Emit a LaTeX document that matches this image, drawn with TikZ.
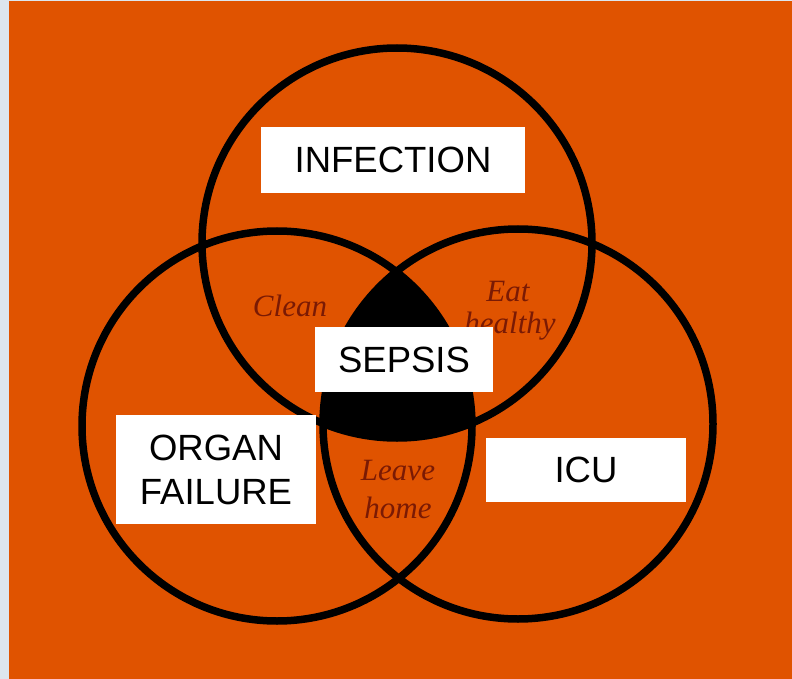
\documentclass[tikz,border=0pt]{standalone}
\usepackage{fontspec}
\newfontfamily\boxfont{Liberation Sans}
\newfontfamily\notefont{Liberation Serif}
\usepackage{xcolor}
\usepackage{tikz}
\usetikzlibrary{positioning}

\definecolor{venn}{HTML}{E05300}
\definecolor{edge}{HTML}{DDE6EE}
\definecolor{inkred}{HTML}{7A1A04}

\begin{document}
\begin{tikzpicture}[
        x=1pt, y=-1pt,
        ring/.style={circle, draw=black, line width=7.5pt, minimum size=390pt, inner sep=0pt},
        tag/.style={rectangle, fill=white, inner sep=0pt, align=center, font=\boxfont\fontsize{36.5}{44}\selectfont},
        note/.style={text=inkred, inner sep=0pt, font=\notefont\itshape\fontsize{31}{36}\selectfont}
    ]

    \useasboundingbox (0,0) rectangle (792,679);
    \fill[edge] (0,0) rectangle (792,679);
    \fill[venn] (9,1) rectangle (792,679);

    % the part shared by all three
    \begin{scope}
        \clip (397,243) circle [radius=195pt];
        \clip (277,426) circle [radius=195pt];
        \fill[black] (518,424) circle [radius=195pt];
    \end{scope}

    \node (infring) [ring] at (397,243) {};
    \node (organring) [ring] at (277,426) {};
    \node (icuring) [ring] at (518,424) {};

    \node (clean) [note] at (290,306) {Clean};
    \node (eat) [note] at (508,292) {Eat};
    \node (healthy) [note] at (510,326) {healthy};
    \node (leave) [note] at (398,471) {Leave};
    \node (home) [note] at (398,508) {home};

    \node (infection) [tag, minimum width=264pt, minimum height=66pt] at (393,160) {INFECTION};
    \node (sepsis) [tag, minimum width=178pt, minimum height=65pt] at (404,359.5) {SEPSIS};
    \node (organ) [tag, minimum width=200pt, minimum height=109pt] at (216,469.5) {ORGAN\\FAILURE};
    \node (icu) [tag, minimum width=200pt, minimum height=64pt] at (586,470) {ICU};

\end{tikzpicture}
\end{document}
